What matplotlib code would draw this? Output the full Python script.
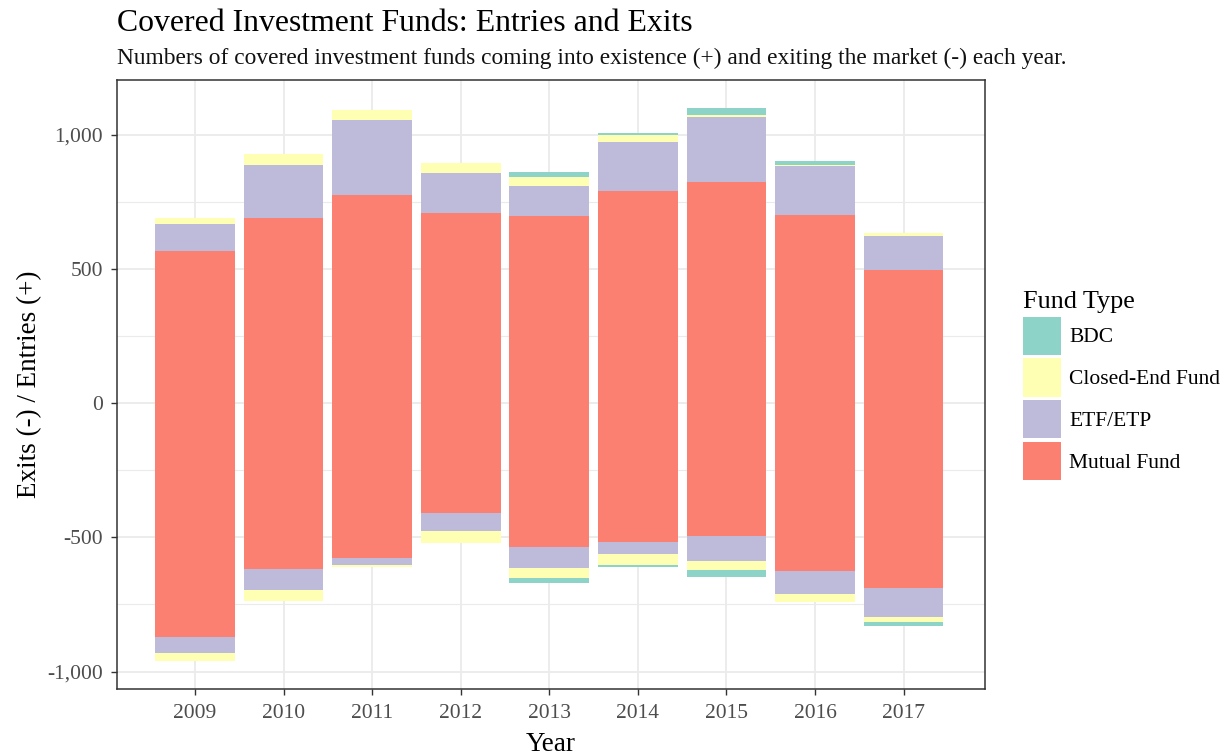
import matplotlib.pyplot as plt
import numpy as np
from matplotlib.patches import Patch
from matplotlib.ticker import FuncFormatter, MultipleLocator

plt.rcParams['font.family'] = ['Liberation Serif', 'DejaVu Serif']

# Data (numbers of funds per year)
years = ['2009', '2010', '2011', '2012', '2013', '2014', '2015', '2016', '2017']
fund_types = ['BDC', 'Closed-End Fund', 'ETF/ETP', 'Mutual Fund']

# entries (+)
mutual_in = [568, 689, 775, 708, 695, 788, 822, 701, 495]
etf_in = [100, 198, 280, 147, 112, 184, 245, 180, 127]
cef_in = [20, 41, 38, 38, 34, 27, 7, 7, 12]
bdc_in = [0, 0, 0, 0, 20, 7, 26, 13, 0]

# exits (-)
mutual_out = [870, 618, 577, 410, 538, 517, 496, 624, 690]
etf_out = [60, 80, 27, 67, 78, 46, 94, 86, 107]
cef_out = [32, 38, 5, 45, 34, 41, 32, 32, 19]
bdc_out = [0, 0, 0, 0, 19, 6, 27, 0, 15]

colors = {
    'BDC': '#8DD3C7',
    'Closed-End Fund': '#FFFFB3',
    'ETF/ETP': '#BEBADA',
    'Mutual Fund': '#FB8072',
}

fig = plt.figure(figsize=(12.28, 7.55), dpi=100)
ax = fig.add_axes([117 / 1228, 1 - 689 / 755, (985 - 117) / 1228, (689 - 80) / 755])

x = np.arange(len(years))
width = 0.9

# stack from zero outwards: Mutual, ETF, CEF, BDC
stack_in = [('Mutual Fund', mutual_in), ('ETF/ETP', etf_in),
            ('Closed-End Fund', cef_in), ('BDC', bdc_in)]
stack_out = [('Mutual Fund', mutual_out), ('ETF/ETP', etf_out),
             ('Closed-End Fund', cef_out), ('BDC', bdc_out)]

base = np.zeros(len(years))
for name, vals in stack_in:
    vals = np.array(vals, dtype=float)
    ax.bar(x, vals, width, bottom=base, color=colors[name], linewidth=0, zorder=3)
    base += vals
top_max = base.max()

base = np.zeros(len(years))
for name, vals in stack_out:
    vals = -np.array(vals, dtype=float)
    ax.bar(x, vals, width, bottom=base, color=colors[name], linewidth=0, zorder=3)
    base += vals
bot_min = base.min()

# ggplot-like expansion
span = top_max - bot_min
ax.set_ylim(bot_min - 0.05 * span, top_max + 0.05 * span)
ax.set_xlim(-0.88, len(years) - 1 + 0.92)

ax.set_xticks(x)
ax.set_xticklabels(years)
ax.yaxis.set_major_locator(MultipleLocator(500))
ax.yaxis.set_minor_locator(MultipleLocator(250))
ax.yaxis.set_major_formatter(FuncFormatter(lambda v, p: f'{int(v):,}'))

ax.grid(True, which='major', color='#EBEBEB', linewidth=1.3, zorder=0)
ax.grid(True, which='minor', axis='y', color='#EBEBEB', linewidth=0.8, zorder=0)
ax.set_axisbelow(True)

for sp in ax.spines.values():
    sp.set_color('#333333')
    sp.set_linewidth(1.1)

ax.tick_params(axis='both', which='major', length=4.5, width=1, color='#333333',
               labelcolor='#4D4D4D', labelsize=15.5)
ax.tick_params(axis='x', which='major', pad=6.5)
ax.tick_params(axis='y', which='major', pad=5.5)
ax.tick_params(axis='y', which='minor', length=0)

ax.set_xlabel('Year', fontsize=19.5, labelpad=6)
ax.set_ylabel('Exits (-) / Entries (+)', fontsize=19.5, labelpad=4)

fig.text(117 / 1228, 1 - 31 / 755, 'Covered Investment Funds: Entries and Exits',
         fontsize=22.9, va='baseline', ha='left')
fig.text(117 / 1228, 1 - 64 / 755,
         'Numbers of covered investment funds coming into existence (+) and exiting the market (-) each year.',
         fontsize=16.8, va='baseline', ha='left', color='#111111')

handles = [Patch(facecolor=colors[n], edgecolor='none') for n in fund_types]
leg = fig.legend(handles, fund_types, loc='upper left',
                 bbox_to_anchor=(1023 / 1228, 1 - 291 / 755),
                 frameon=False, fontsize=15.5, title='Fund Type', title_fontsize=18.8,
                 handlelength=1.75, handleheight=2.35, labelspacing=0.17,
                 handletextpad=0.4, borderpad=0, borderaxespad=0)
leg._legend_box.align = 'left'

fig.savefig('out.png', dpi=100)
